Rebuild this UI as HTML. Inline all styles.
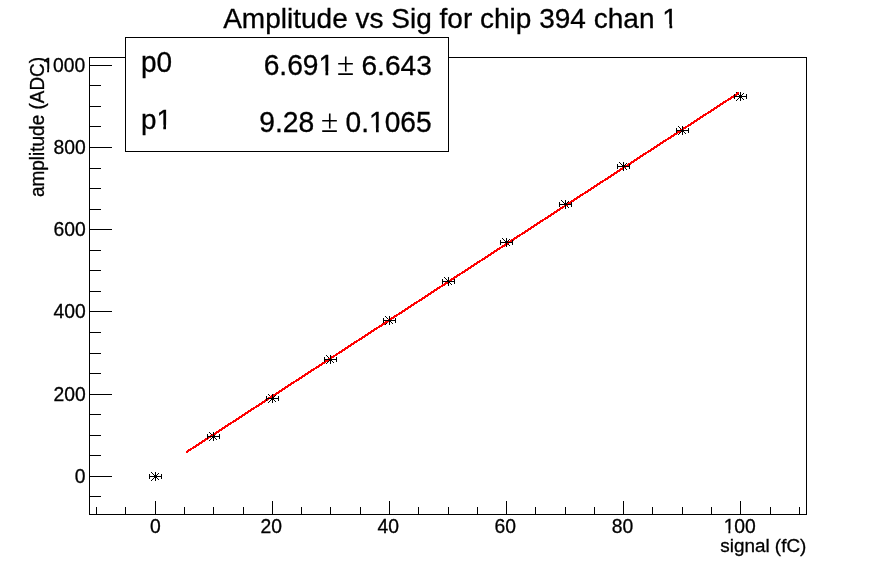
<!DOCTYPE html><html><head><meta charset="utf-8"><title>Amplitude vs Sig for chip 394 chan 1</title><style>html,body{margin:0;padding:0;background:#fff;overflow:hidden}svg{display:block}text{font-family:"Liberation Sans",sans-serif;fill:#000;stroke:#000;stroke-width:0.3px;font-kerning:none;white-space:pre}svg{will-change:transform}</style></head><body>
<svg width="896" height="572" viewBox="0 0 896 572">
<rect x="0" y="0" width="896" height="572" fill="#fff"/>
<path d="M89,57h718v1h-718zM89,514h718v1h-718zM89,57h1v458h-1zM806,57h1v458h-1zM90,496h11v1h-11zM90,476h22v1h-22zM90,455h11v1h-11zM90,435h11v1h-11zM90,414h11v1h-11zM90,394h22v1h-22zM90,373h11v1h-11zM90,353h11v1h-11zM90,332h11v1h-11zM90,311h22v1h-22zM90,291h11v1h-11zM90,270h11v1h-11zM90,250h11v1h-11zM90,229h22v1h-22zM90,209h11v1h-11zM90,188h11v1h-11zM90,168h11v1h-11zM90,147h22v1h-22zM90,126h11v1h-11zM90,106h11v1h-11zM90,85h11v1h-11zM90,65h22v1h-22zM96,507h1v7h-1zM125,507h1v7h-1zM155,501h1v13h-1zM184,507h1v7h-1zM213,507h1v7h-1zM243,507h1v7h-1zM272,501h1v13h-1zM301,507h1v7h-1zM330,507h1v7h-1zM360,507h1v7h-1zM389,501h1v13h-1zM418,507h1v7h-1zM448,507h1v7h-1zM477,507h1v7h-1zM506,501h1v13h-1zM535,507h1v7h-1zM565,507h1v7h-1zM594,507h1v7h-1zM623,501h1v13h-1zM652,507h1v7h-1zM682,507h1v7h-1zM711,507h1v7h-1zM740,501h1v13h-1zM770,507h1v7h-1zM799,507h1v7h-1z" fill="#000" shape-rendering="crispEdges"/>
<path d="M151,472h1v1h-1zM151,480h1v1h-1zM152,473h1v1h-1zM152,479h1v1h-1zM153,474h1v1h-1zM153,478h1v1h-1zM154,475h1v1h-1zM154,477h1v1h-1zM156,477h1v1h-1zM156,475h1v1h-1zM157,478h1v1h-1zM157,474h1v1h-1zM158,479h1v1h-1zM158,473h1v1h-1zM209,432h1v1h-1zM209,440h1v1h-1zM210,433h1v1h-1zM210,439h1v1h-1zM211,434h1v1h-1zM211,438h1v1h-1zM212,435h1v1h-1zM212,437h1v1h-1zM214,437h1v1h-1zM214,435h1v1h-1zM215,438h1v1h-1zM215,434h1v1h-1zM216,439h1v1h-1zM216,433h1v1h-1zM268,394h1v1h-1zM268,402h1v1h-1zM269,395h1v1h-1zM269,401h1v1h-1zM270,396h1v1h-1zM270,400h1v1h-1zM271,397h1v1h-1zM271,399h1v1h-1zM273,399h1v1h-1zM273,397h1v1h-1zM274,400h1v1h-1zM274,396h1v1h-1zM275,401h1v1h-1zM275,395h1v1h-1zM326,355h1v1h-1zM326,363h1v1h-1zM327,356h1v1h-1zM327,362h1v1h-1zM328,357h1v1h-1zM328,361h1v1h-1zM329,358h1v1h-1zM329,360h1v1h-1zM331,360h1v1h-1zM331,358h1v1h-1zM332,361h1v1h-1zM332,357h1v1h-1zM333,362h1v1h-1zM333,356h1v1h-1zM385,316h1v1h-1zM385,324h1v1h-1zM386,317h1v1h-1zM386,323h1v1h-1zM387,318h1v1h-1zM387,322h1v1h-1zM388,319h1v1h-1zM388,321h1v1h-1zM390,321h1v1h-1zM390,319h1v1h-1zM391,322h1v1h-1zM391,318h1v1h-1zM392,323h1v1h-1zM392,317h1v1h-1zM444,277h1v1h-1zM444,285h1v1h-1zM445,278h1v1h-1zM445,284h1v1h-1zM446,279h1v1h-1zM446,283h1v1h-1zM447,280h1v1h-1zM447,282h1v1h-1zM449,282h1v1h-1zM449,280h1v1h-1zM450,283h1v1h-1zM450,279h1v1h-1zM451,284h1v1h-1zM451,278h1v1h-1zM502,238h1v1h-1zM502,246h1v1h-1zM503,239h1v1h-1zM503,245h1v1h-1zM504,240h1v1h-1zM504,244h1v1h-1zM505,241h1v1h-1zM505,243h1v1h-1zM507,243h1v1h-1zM507,241h1v1h-1zM508,244h1v1h-1zM508,240h1v1h-1zM509,245h1v1h-1zM509,239h1v1h-1zM561,200h1v1h-1zM561,208h1v1h-1zM562,201h1v1h-1zM562,207h1v1h-1zM563,202h1v1h-1zM563,206h1v1h-1zM564,203h1v1h-1zM564,205h1v1h-1zM566,205h1v1h-1zM566,203h1v1h-1zM567,206h1v1h-1zM567,202h1v1h-1zM568,207h1v1h-1zM568,201h1v1h-1zM619,162h1v1h-1zM619,170h1v1h-1zM620,163h1v1h-1zM620,169h1v1h-1zM621,164h1v1h-1zM621,168h1v1h-1zM622,165h1v1h-1zM622,167h1v1h-1zM624,167h1v1h-1zM624,165h1v1h-1zM625,168h1v1h-1zM625,164h1v1h-1zM626,169h1v1h-1zM626,163h1v1h-1zM678,126h1v1h-1zM678,134h1v1h-1zM679,127h1v1h-1zM679,133h1v1h-1zM680,128h1v1h-1zM680,132h1v1h-1zM681,129h1v1h-1zM681,131h1v1h-1zM683,131h1v1h-1zM683,129h1v1h-1zM684,132h1v1h-1zM684,128h1v1h-1zM685,133h1v1h-1zM685,127h1v1h-1zM736,92h1v1h-1zM736,100h1v1h-1zM737,93h1v1h-1zM737,99h1v1h-1zM738,94h1v1h-1zM738,98h1v1h-1zM739,95h1v1h-1zM739,97h1v1h-1zM741,97h1v1h-1zM741,95h1v1h-1zM742,98h1v1h-1zM742,94h1v1h-1zM743,99h1v1h-1zM743,93h1v1h-1z" fill="#000" shape-rendering="crispEdges"/>
<path d="M186,451h1v2h-1zM187,450h1v3h-1zM188,449h1v3h-1zM189,449h1v2h-1zM190,448h1v3h-1zM191,448h1v2h-1zM192,447h1v2h-1zM193,446h1v3h-1zM194,446h1v2h-1zM195,445h1v3h-1zM196,444h1v3h-1zM197,444h1v2h-1zM198,443h1v3h-1zM199,442h1v3h-1zM200,442h1v2h-1zM201,441h1v3h-1zM202,440h1v3h-1zM203,440h1v2h-1zM204,439h1v3h-1zM205,438h1v3h-1zM206,438h1v2h-1zM207,437h1v3h-1zM208,436h1v3h-1zM209,436h1v2h-1zM210,435h1v3h-1zM211,435h1v2h-1zM212,434h1v2h-1zM213,433h1v3h-1zM214,433h1v2h-1zM215,432h1v3h-1zM216,431h1v3h-1zM217,431h1v2h-1zM218,430h1v3h-1zM219,429h1v3h-1zM220,429h1v2h-1zM221,428h1v3h-1zM222,427h1v3h-1zM223,427h1v2h-1zM224,426h1v3h-1zM225,425h1v3h-1zM226,425h1v2h-1zM227,424h1v3h-1zM228,423h1v3h-1zM229,423h1v2h-1zM230,422h1v3h-1zM231,422h1v2h-1zM232,421h1v2h-1zM233,420h1v3h-1zM234,420h1v2h-1zM235,419h1v3h-1zM236,418h1v3h-1zM237,418h1v2h-1zM238,417h1v3h-1zM239,416h1v3h-1zM240,416h1v2h-1zM241,415h1v3h-1zM242,414h1v3h-1zM243,414h1v2h-1zM244,413h1v3h-1zM245,412h1v3h-1zM246,412h1v2h-1zM247,411h1v3h-1zM248,410h1v3h-1zM249,410h1v2h-1zM250,409h1v3h-1zM251,408h1v3h-1zM252,408h1v2h-1zM253,407h1v3h-1zM254,407h1v2h-1zM255,406h1v2h-1zM256,405h1v3h-1zM257,405h1v2h-1zM258,404h1v3h-1zM259,403h1v3h-1zM260,403h1v2h-1zM261,402h1v3h-1zM262,401h1v3h-1zM263,401h1v2h-1zM264,400h1v3h-1zM265,399h1v3h-1zM266,399h1v2h-1zM267,398h1v3h-1zM268,397h1v3h-1zM269,397h1v2h-1zM270,396h1v3h-1zM271,395h1v3h-1zM272,395h1v2h-1zM273,394h1v3h-1zM274,394h1v2h-1zM275,393h1v2h-1zM276,392h1v3h-1zM277,392h1v2h-1zM278,391h1v3h-1zM279,390h1v3h-1zM280,390h1v2h-1zM281,389h1v3h-1zM282,388h1v3h-1zM283,388h1v2h-1zM284,387h1v3h-1zM285,386h1v3h-1zM286,386h1v2h-1zM287,385h1v3h-1zM288,384h1v3h-1zM289,384h1v2h-1zM290,383h1v3h-1zM291,382h1v3h-1zM292,382h1v2h-1zM293,381h1v3h-1zM294,381h1v2h-1zM295,380h1v2h-1zM296,379h1v3h-1zM297,379h1v2h-1zM298,378h1v3h-1zM299,377h1v3h-1zM300,377h1v2h-1zM301,376h1v3h-1zM302,375h1v3h-1zM303,375h1v2h-1zM304,374h1v3h-1zM305,373h1v3h-1zM306,373h1v2h-1zM307,372h1v3h-1zM308,371h1v3h-1zM309,371h1v2h-1zM310,370h1v3h-1zM311,369h1v3h-1zM312,369h1v2h-1zM313,368h1v3h-1zM314,368h1v2h-1zM315,367h1v2h-1zM316,366h1v3h-1zM317,366h1v2h-1zM318,365h1v3h-1zM319,364h1v3h-1zM320,364h1v2h-1zM321,363h1v3h-1zM322,362h1v3h-1zM323,362h1v2h-1zM324,361h1v3h-1zM325,360h1v3h-1zM326,360h1v2h-1zM327,359h1v3h-1zM328,358h1v3h-1zM329,358h1v2h-1zM330,357h1v3h-1zM331,356h1v3h-1zM332,356h1v2h-1zM333,355h1v3h-1zM334,355h1v2h-1zM335,354h1v2h-1zM336,353h1v3h-1zM337,353h1v2h-1zM338,352h1v2h-1zM339,351h1v3h-1zM340,351h1v2h-1zM341,350h1v3h-1zM342,349h1v3h-1zM343,349h1v2h-1zM344,348h1v3h-1zM345,347h1v3h-1zM346,347h1v2h-1zM347,346h1v3h-1zM348,345h1v3h-1zM349,345h1v2h-1zM350,344h1v3h-1zM351,343h1v3h-1zM352,343h1v2h-1zM353,342h1v3h-1zM354,341h1v3h-1zM355,341h1v2h-1zM356,340h1v3h-1zM357,340h1v2h-1zM358,339h1v2h-1zM359,338h1v3h-1zM360,338h1v2h-1zM361,337h1v3h-1zM362,336h1v3h-1zM363,336h1v2h-1zM364,335h1v3h-1zM365,334h1v3h-1zM366,334h1v2h-1zM367,333h1v3h-1zM368,332h1v3h-1zM369,332h1v2h-1zM370,331h1v3h-1zM371,330h1v3h-1zM372,330h1v2h-1zM373,329h1v3h-1zM374,328h1v3h-1zM375,328h1v2h-1zM376,327h1v3h-1zM377,327h1v2h-1zM378,326h1v2h-1zM379,325h1v3h-1zM380,325h1v2h-1zM381,324h1v3h-1zM382,323h1v3h-1zM383,323h1v2h-1zM384,322h1v3h-1zM385,321h1v3h-1zM386,321h1v2h-1zM387,320h1v3h-1zM388,319h1v3h-1zM389,319h1v2h-1zM390,318h1v3h-1zM391,317h1v3h-1zM392,317h1v2h-1zM393,316h1v3h-1zM394,315h1v3h-1zM395,315h1v2h-1zM396,314h1v3h-1zM397,314h1v2h-1zM398,313h1v2h-1zM399,312h1v3h-1zM400,312h1v2h-1zM401,311h1v3h-1zM402,310h1v3h-1zM403,310h1v2h-1zM404,309h1v3h-1zM405,308h1v3h-1zM406,308h1v2h-1zM407,307h1v3h-1zM408,306h1v3h-1zM409,306h1v2h-1zM410,305h1v3h-1zM411,304h1v3h-1zM412,304h1v2h-1zM413,303h1v3h-1zM414,302h1v3h-1zM415,302h1v2h-1zM416,301h1v3h-1zM417,301h1v2h-1zM418,300h1v2h-1zM419,299h1v3h-1zM420,299h1v2h-1zM421,298h1v3h-1zM422,297h1v3h-1zM423,297h1v2h-1zM424,296h1v3h-1zM425,295h1v3h-1zM426,295h1v2h-1zM427,294h1v3h-1zM428,293h1v3h-1zM429,293h1v2h-1zM430,292h1v3h-1zM431,291h1v3h-1zM432,291h1v2h-1zM433,290h1v3h-1zM434,289h1v3h-1zM435,289h1v2h-1zM436,288h1v3h-1zM437,287h1v3h-1zM438,287h1v2h-1zM439,286h1v3h-1zM440,286h1v2h-1zM441,285h1v2h-1zM442,284h1v3h-1zM443,284h1v2h-1zM444,283h1v3h-1zM445,282h1v3h-1zM446,282h1v2h-1zM447,281h1v3h-1zM448,280h1v3h-1zM449,280h1v2h-1zM450,279h1v3h-1zM451,278h1v3h-1zM452,278h1v2h-1zM453,277h1v3h-1zM454,276h1v3h-1zM455,276h1v2h-1zM456,275h1v3h-1zM457,274h1v3h-1zM458,274h1v2h-1zM459,273h1v3h-1zM460,273h1v2h-1zM461,272h1v2h-1zM462,271h1v3h-1zM463,271h1v2h-1zM464,270h1v3h-1zM465,269h1v3h-1zM466,269h1v2h-1zM467,268h1v3h-1zM468,267h1v3h-1zM469,267h1v2h-1zM470,266h1v3h-1zM471,265h1v3h-1zM472,265h1v2h-1zM473,264h1v3h-1zM474,263h1v3h-1zM475,263h1v2h-1zM476,262h1v3h-1zM477,261h1v3h-1zM478,261h1v2h-1zM479,260h1v3h-1zM480,260h1v2h-1zM481,259h1v2h-1zM482,258h1v3h-1zM483,258h1v2h-1zM484,257h1v3h-1zM485,256h1v3h-1zM486,256h1v2h-1zM487,255h1v3h-1zM488,254h1v3h-1zM489,254h1v2h-1zM490,253h1v3h-1zM491,252h1v3h-1zM492,252h1v2h-1zM493,251h1v3h-1zM494,250h1v3h-1zM495,250h1v2h-1zM496,249h1v3h-1zM497,248h1v3h-1zM498,248h1v2h-1zM499,247h1v3h-1zM500,247h1v2h-1zM501,246h1v2h-1zM502,245h1v3h-1zM503,245h1v2h-1zM504,244h1v3h-1zM505,243h1v3h-1zM506,243h1v2h-1zM507,242h1v3h-1zM508,241h1v3h-1zM509,241h1v2h-1zM510,240h1v3h-1zM511,239h1v3h-1zM512,239h1v2h-1zM513,238h1v3h-1zM514,237h1v3h-1zM515,237h1v2h-1zM516,236h1v3h-1zM517,235h1v3h-1zM518,235h1v2h-1zM519,234h1v3h-1zM520,234h1v2h-1zM521,233h1v2h-1zM522,232h1v3h-1zM523,232h1v2h-1zM524,231h1v3h-1zM525,230h1v3h-1zM526,230h1v2h-1zM527,229h1v3h-1zM528,228h1v3h-1zM529,228h1v2h-1zM530,227h1v3h-1zM531,226h1v3h-1zM532,226h1v2h-1zM533,225h1v3h-1zM534,224h1v3h-1zM535,224h1v2h-1zM536,223h1v3h-1zM537,222h1v3h-1zM538,222h1v2h-1zM539,221h1v3h-1zM540,220h1v3h-1zM541,220h1v2h-1zM542,219h1v3h-1zM543,219h1v2h-1zM544,218h1v2h-1zM545,217h1v3h-1zM546,217h1v2h-1zM547,216h1v3h-1zM548,215h1v3h-1zM549,215h1v2h-1zM550,214h1v3h-1zM551,213h1v3h-1zM552,213h1v2h-1zM553,212h1v3h-1zM554,211h1v3h-1zM555,211h1v2h-1zM556,210h1v3h-1zM557,209h1v3h-1zM558,209h1v2h-1zM559,208h1v3h-1zM560,207h1v3h-1zM561,207h1v2h-1zM562,206h1v3h-1zM563,206h1v2h-1zM564,205h1v2h-1zM565,204h1v3h-1zM566,204h1v2h-1zM567,203h1v3h-1zM568,202h1v3h-1zM569,202h1v2h-1zM570,201h1v3h-1zM571,200h1v3h-1zM572,200h1v2h-1zM573,199h1v3h-1zM574,198h1v3h-1zM575,198h1v2h-1zM576,197h1v3h-1zM577,196h1v3h-1zM578,196h1v2h-1zM579,195h1v3h-1zM580,194h1v3h-1zM581,194h1v2h-1zM582,193h1v3h-1zM583,193h1v2h-1zM584,192h1v2h-1zM585,191h1v3h-1zM586,191h1v2h-1zM587,190h1v3h-1zM588,189h1v3h-1zM589,189h1v2h-1zM590,188h1v3h-1zM591,187h1v3h-1zM592,187h1v2h-1zM593,186h1v3h-1zM594,185h1v3h-1zM595,185h1v2h-1zM596,184h1v3h-1zM597,183h1v3h-1zM598,183h1v2h-1zM599,182h1v3h-1zM600,181h1v3h-1zM601,181h1v2h-1zM602,180h1v3h-1zM603,180h1v2h-1zM604,179h1v2h-1zM605,178h1v3h-1zM606,178h1v2h-1zM607,177h1v3h-1zM608,176h1v3h-1zM609,176h1v2h-1zM610,175h1v3h-1zM611,174h1v3h-1zM612,174h1v2h-1zM613,173h1v3h-1zM614,172h1v3h-1zM615,172h1v2h-1zM616,171h1v3h-1zM617,170h1v3h-1zM618,170h1v2h-1zM619,169h1v3h-1zM620,168h1v3h-1zM621,168h1v2h-1zM622,167h1v3h-1zM623,167h1v2h-1zM624,166h1v2h-1zM625,165h1v3h-1zM626,165h1v2h-1zM627,164h1v3h-1zM628,163h1v3h-1zM629,163h1v2h-1zM630,162h1v3h-1zM631,161h1v3h-1zM632,161h1v2h-1zM633,160h1v3h-1zM634,159h1v3h-1zM635,159h1v2h-1zM636,158h1v3h-1zM637,157h1v3h-1zM638,157h1v2h-1zM639,156h1v3h-1zM640,155h1v3h-1zM641,155h1v2h-1zM642,154h1v3h-1zM643,153h1v3h-1zM644,153h1v2h-1zM645,152h1v3h-1zM646,152h1v2h-1zM647,151h1v2h-1zM648,150h1v3h-1zM649,150h1v2h-1zM650,149h1v3h-1zM651,148h1v3h-1zM652,148h1v2h-1zM653,147h1v3h-1zM654,146h1v3h-1zM655,146h1v2h-1zM656,145h1v3h-1zM657,144h1v3h-1zM658,144h1v2h-1zM659,143h1v3h-1zM660,142h1v3h-1zM661,142h1v2h-1zM662,141h1v3h-1zM663,140h1v3h-1zM664,140h1v2h-1zM665,139h1v3h-1zM666,139h1v2h-1zM667,138h1v2h-1zM668,137h1v3h-1zM669,137h1v2h-1zM670,136h1v3h-1zM671,135h1v3h-1zM672,135h1v2h-1zM673,134h1v3h-1zM674,133h1v3h-1zM675,133h1v2h-1zM676,132h1v3h-1zM677,131h1v3h-1zM678,131h1v2h-1zM679,130h1v3h-1zM680,129h1v3h-1zM681,129h1v2h-1zM682,128h1v3h-1zM683,127h1v3h-1zM684,127h1v2h-1zM685,126h1v3h-1zM686,126h1v2h-1zM687,125h1v2h-1zM688,124h1v3h-1zM689,124h1v2h-1zM690,123h1v3h-1zM691,122h1v3h-1zM692,122h1v2h-1zM693,121h1v3h-1zM694,120h1v3h-1zM695,120h1v2h-1zM696,119h1v3h-1zM697,118h1v3h-1zM698,118h1v2h-1zM699,117h1v3h-1zM700,116h1v3h-1zM701,116h1v2h-1zM702,115h1v3h-1zM703,114h1v3h-1zM704,114h1v2h-1zM705,113h1v3h-1zM706,113h1v2h-1zM707,112h1v2h-1zM708,111h1v3h-1zM709,111h1v2h-1zM710,110h1v3h-1zM711,109h1v3h-1zM712,109h1v2h-1zM713,108h1v3h-1zM714,107h1v3h-1zM715,107h1v2h-1zM716,106h1v3h-1zM717,105h1v3h-1zM718,105h1v2h-1zM719,104h1v3h-1zM720,103h1v3h-1zM721,103h1v2h-1zM722,102h1v3h-1zM723,101h1v3h-1zM724,101h1v2h-1zM725,100h1v3h-1zM726,100h1v2h-1zM727,99h1v2h-1zM728,98h1v3h-1zM729,98h1v2h-1zM730,97h1v3h-1zM731,96h1v3h-1zM732,96h1v2h-1zM733,95h1v3h-1zM734,94h1v3h-1zM735,94h1v2h-1zM736,93h1v3h-1zM737,92h1v3h-1zM738,92h1v2h-1z" fill="#f00" shape-rendering="crispEdges"/>
<path d="M155,472h1v9h-1zM149,476h13v1h-13zM149,474h1v5h-1zM161,474h1v5h-1zM213,432h1v9h-1zM207,436h13v1h-13zM207,434h1v5h-1zM219,434h1v5h-1zM272,394h1v9h-1zM266,398h13v1h-13zM266,396h1v5h-1zM278,396h1v5h-1zM330,355h1v9h-1zM324,359h13v1h-13zM324,357h1v5h-1zM336,357h1v5h-1zM389,316h1v9h-1zM383,320h13v1h-13zM383,318h1v5h-1zM395,318h1v5h-1zM448,277h1v9h-1zM442,281h13v1h-13zM442,279h1v5h-1zM454,279h1v5h-1zM506,238h1v9h-1zM500,242h13v1h-13zM500,240h1v5h-1zM512,240h1v5h-1zM565,200h1v9h-1zM559,204h13v1h-13zM559,202h1v5h-1zM571,202h1v5h-1zM623,162h1v9h-1zM617,166h13v1h-13zM617,164h1v5h-1zM629,164h1v5h-1zM682,126h1v9h-1zM676,130h13v1h-13zM676,128h1v5h-1zM688,128h1v5h-1zM740,92h1v9h-1zM734,96h13v1h-13zM734,94h1v5h-1zM746,94h1v5h-1z" fill="#000" shape-rendering="crispEdges"/>
<text transform="matrix(1,0,0,1.0196,74.81,483.03)" font-size="19.320">0</text>
<text transform="matrix(1,0,0,1.0196,53.52,401.03)" font-size="19.320">200</text>
<text transform="matrix(1,0,0,1.0196,53.52,317.83)" font-size="19.320">400</text>
<text transform="matrix(1,0,0,1.0196,53.52,236.05)" font-size="19.320">600</text>
<text transform="matrix(1,0,0,1.0196,53.52,153.83)" font-size="19.320">800</text>
<text transform="matrix(1,0,0,1.0196,42.38,71.93)" font-size="19.320">1000</text>
<text transform="matrix(1,0,0,1.0196,150.03,532.75)" font-size="19.320">0</text>
<text transform="matrix(1,0,0,1.0196,260.47,532.75)" font-size="19.320">20</text>
<text transform="matrix(1,0,0,1.0196,377.59,532.75)" font-size="19.320">40</text>
<text transform="matrix(1,0,0,1.0196,494.57,532.75)" font-size="19.320">60</text>
<text transform="matrix(1,0,0,1.0196,611.64,532.75)" font-size="19.320">80</text>
<text transform="matrix(1,0,0,1.0196,723.63,532.75)" font-size="19.320">100</text>
<path d="M43.05,68.86h4.07v4.67h-4.07zM49.06,68.86h3.92v4.67h-3.92zM724.30,529.68h4.07v4.67h-4.07zM730.32,529.68h3.92v4.67h-3.92z" fill="#fff"/>
<text transform="matrix(1,0,0,1.0106,720.27,551.84)" font-size="18.895">signal (fC)</text>
<text transform="matrix(0,-1,1.0295,0,44.05,197.01)" font-size="18.966">amplitude (ADC)</text>
<text transform="matrix(1,0,0,1.0180,223.15,27.68)" font-size="28.033">Amplitude vs Sig for chip 394 chan 1</text>
<path d="M663.91,23.95h5.59v5.33h-5.59zM672.22,23.95h5.38v5.33h-5.38z" fill="#fff"/>
<path d="M125,37h324v115h-324z M126,38v113h322v-113z" fill="#000" fill-rule="evenodd" shape-rendering="crispEdges"/>
<rect x="126" y="38" width="322" height="113" fill="#fff"/>
<path d="M345.75,56.40V71.60M338.20,63.80H352.85M338.20,74.10H352.85M329.75,113.40V128.60M322.20,120.80H336.85M322.20,131.10H336.85" stroke="#000" stroke-width="1.6" fill="none"/>
<text transform="matrix(1,0,0,1.0440,140.95,72.31)" font-size="28.004">p0</text>
<text transform="matrix(1,0,0,1.0233,140.96,128.60)" font-size="27.840">p1</text>
<text transform="matrix(1,0,0,1.0223,263.67,75.12)" font-size="28.183">6.691</text>
<text transform="matrix(1,0,0,1.0097,361.47,74.82)" font-size="28.118">6.643</text>
<text transform="matrix(1,0,0,1.0336,259.27,132.11)" font-size="28.287">9.28</text>
<text transform="matrix(1,0,0,1.0401,345.60,132.11)" font-size="28.110">0.1065</text>
<path d="M157.76,124.87h5.56v5.33h-5.56zM166.02,124.87h5.34v5.33h-5.34zM319.87,71.37h5.62v5.35h-5.62zM328.22,71.37h5.40v5.35h-5.40zM370.39,128.33h5.61v5.38h-5.61zM378.72,128.33h5.39v5.38h-5.39z" fill="#fff"/>
</svg></body></html>
